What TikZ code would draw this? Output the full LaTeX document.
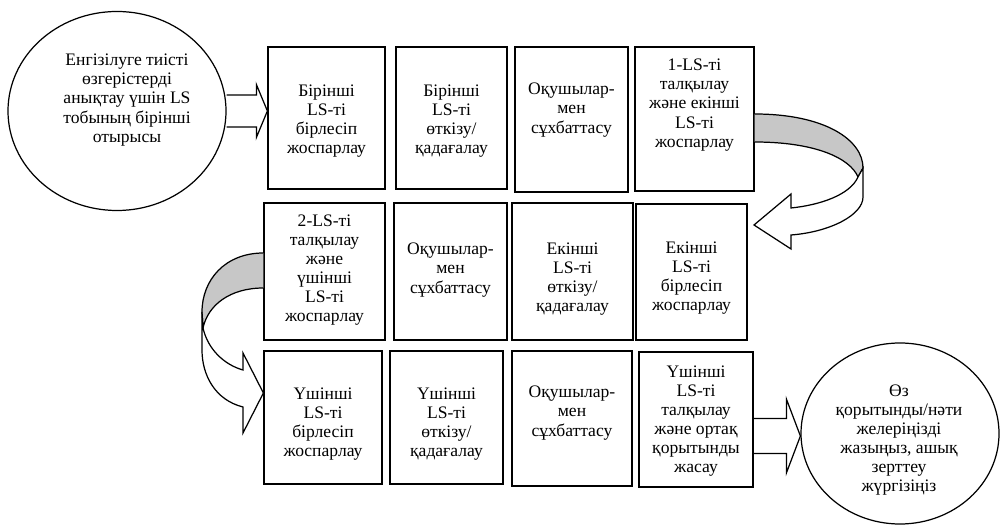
\documentclass[tikz,border=0pt]{standalone}
\usepackage{fontspec}
\setmainfont{Liberation Serif}
\usetikzlibrary{shapes.geometric,calc}
\tikzset{
  box/.style 2 args={draw, line width=0.7pt, minimum width=#1*0.02cm, minimum height=#2*0.02cm, inner sep=0pt},
  oval/.style 2 args={draw, ellipse, line width=0.7pt, minimum width=#1*0.02cm, minimum height=#2*0.02cm, inner sep=0pt},
  txt/.style={align=center, inner sep=0pt, font=\fontsize{10}{10.9}\selectfont},
  band/.style={draw, line width=0.7pt, fill=black!22},
  face/.style={draw, line width=0.7pt, fill=white},
}
\newcommand\blockarr[5]{\draw[line width=0.7pt] ($(#1)+(0,-#3)$) -- ($(#2)+(-#5,-#3)$) -- ($(#2)+(-#5,-#4)$) -- (#2) -- ($(#2)+(-#5,#4)$) -- ($(#2)+(-#5,#3)$) -- ($(#1)+(0,#3)$);}
\begin{document}
\begin{tikzpicture}[x=0.02cm,y=-0.02cm]
\useasboundingbox (0,0) rectangle (1000,526);

\node[oval={218}{199}] (e1) at (117,111) {};
\node[txt] (t0) at (127,100) {Енгізілуге тиісті\\өзгерістерді\\анықтау үшін LS\\тобының бірінші\\отырысы};

\node[box={117}{142}] (b11) at (326.5,118) {};
\node[txt] (t11) at (326.5,121) {Бірінші\\LS-ті\\бірлесіп\\жоспарлау};
\node[box={111}{142}] (b12) at (451.5,118) {};
\node[txt] (t12) at (451.5,121) {Бірінші\\LS-ті\\өткізу/\\қадағалау};
\node[box={113}{145}] (b13) at (571.5,119.5) {};
\node[txt] (t13) at (571.5,110) {Оқушылар-\\мен\\сұхбаттасу};
\node[box={119}{144}] (b14) at (694.5,119) {};
\node[txt] (t14) at (694.5,105) {1-LS-ті\\талқылау\\және екінші\\LS-ті\\жоспарлау};

\node[box={121}{137}] (b21) at (324.5,271.5) {};
\node[txt] (t21) at (324.5,270) {2-LS-ті\\талқылау\\және\\үшінші\\LS-ті\\жоспарлау};
\node[box={113}{137}] (b22) at (450.5,271.5) {};
\node[txt] (t22) at (450.5,270) {Оқушылар-\\мен\\сұхбаттасу};
\node[box={121}{137}] (b23) at (572.5,271.5) {};
\node[txt] (t23) at (572.5,279) {Екінші\\LS-ті\\өткізу/\\қадағалау};
\node[box={111}{136}] (b24) at (691.5,272) {};
\node[txt] (t24) at (691.5,278) {Екінші\\LS-ті\\бірлесіп\\жоспарлау};

\node[box={118}{133}] (b31) at (323,417.5) {};
\node[txt] (t31) at (323,424) {Үшінші\\LS-ті\\бірлесіп\\жоспарлау};
\node[box={113}{133}] (b32) at (446.5,417.5) {};
\node[txt] (t32) at (446.5,424) {Үшінші\\LS-ті\\өткізу/\\қадағалау};
\node[box={120}{135}] (b33) at (572,418.5) {};
\node[txt] (t33) at (572,413) {Оқушылар-\\мен\\сұхбаттасу};
\node[box={114}{135}] (b34) at (696,419.5) {};
\node[txt] (t34) at (696,421) {Үшінші\\LS-ті\\талқылау\\және ортақ\\қорытынды\\жасау};

\node[oval={198}{181}] (e2) at (900,433.5) {};
\node[txt] (t9) at (899,440) {Өз\\қорытынды/нәти\\желеріңізді\\жазыңыз, ашық\\зерттеу\\жүргізіңіз};

\blockarr{e1.east|-0,111}{b11.west|-0,111}{16}{26.5}{11}
\blockarr{b34.east|-0,436}{e2.west|-0,436}{17.5}{37}{14}

\draw[band] (b14.east|-0,114) .. controls (825,114) and (863,140) .. (863,168) -- (858,177) .. controls (850,158) and (815,142) .. (b14.east|-0,142);
\draw[face] (858,177) .. controls (850,195) and (820,205) .. (791,208) -- (791,194) -- (754,225) -- (791,249) -- (791,235) .. controls (830,232) and (863,215) .. (863,197) -- (863,168) -- cycle;

\draw[band] (b21.west|-0,253) .. controls (225,253) and (202,280) .. (202,312) -- (203,328) .. controls (208,305) and (230,288) .. (b21.west|-0,288);
\draw[face] (203,328) .. controls (208,350) and (225,365) .. (243,370) -- (243,353) -- (b31.west|-0,393) -- (243,433) -- (243,407) .. controls (215,400) and (202,375) .. (202,350) -- (202,312) -- cycle;
\end{tikzpicture}
\end{document}
